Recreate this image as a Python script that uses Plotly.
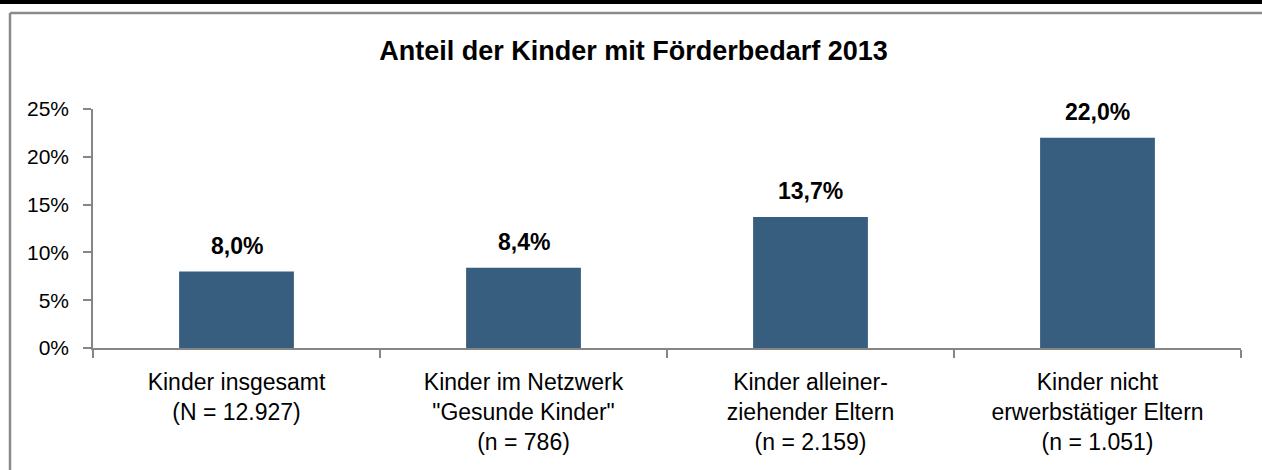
import plotly.graph_objects as go

categories = [
    "Kinder insgesamt<br>(N = 12.927)",
    "Kinder im Netzwerk<br>\"Gesunde Kinder\"<br>(n = 786)",
    "Kinder alleiner-<br>ziehender Eltern<br>(n = 2.159)",
    "Kinder nicht<br>erwerbstätiger Eltern<br>(n = 1.051)",
]
values = [8.0, 8.4, 13.7, 22.0]
y_ticks = [0, 5, 10, 15, 20, 25]
y_tick_labels = [f"{t}%" for t in y_ticks]
title_text = "Anteil der Kinder mit Förderbedarf 2013"

W, H = 1262, 470
ML, MR, MT, MB = 93, 21, 109, 122
FONT = "Liberation Sans, Arial, sans-serif"
BAR = "#375E7F"
AXIS = "#868686"

fig = go.Figure()
fig.add_trace(go.Bar(x=categories, y=values, marker=dict(color=BAR, line=dict(width=0)),
                     hoverinfo="skip"))

for c, v in zip(categories, values):
    fig.add_annotation(x=c, y=v, xref="x", yref="y", yanchor="bottom",
                       text=f"<b>{v:.1f}%</b>".replace(".", ","), showarrow=False,
                       yshift=11, font=dict(family=FONT, size=23, color="black"))

pw = W - ML - MR
ph = H - MT - MB
def px_x(p):
    return (p - ML) / pw
def px_y(p):
    return 1 - (p - MT) / ph

shapes = [
    dict(type="rect", xref="paper", yref="paper", x0=px_x(-5), x1=px_x(W + 5),
         y0=px_y(4), y1=px_y(-5), fillcolor="black", line=dict(width=0), layer="above"),
    dict(type="line", xref="paper", yref="paper", x0=px_x(10), x1=px_x(W + 5),
         y0=px_y(13), y1=px_y(13), line=dict(color="#8a8a8a", width=2.5)),
    dict(type="line", xref="paper", yref="paper", x0=px_x(10), x1=px_x(10),
         y0=px_y(13), y1=px_y(H + 5), line=dict(color="#8a8a8a", width=2.5)),
]

fig.update_layout(
    width=W, height=H,
    margin=dict(l=ML, r=MR, t=MT, b=MB, pad=0),
    paper_bgcolor="white", plot_bgcolor="white",
    showlegend=False, bargap=0.6,
    title=dict(text=f"<b>{title_text}</b>", x=0.502, xanchor="center",
               y=1 - 51 / H, yanchor="middle", yref="container",
               font=dict(family=FONT, size=27, color="black")),
    font=dict(family=FONT, color="black"),
    shapes=shapes,
    xaxis=dict(showline=True, linecolor=AXIS, linewidth=1.5, ticks="outside",
               tickson="boundaries", ticklen=8, tickcolor=AXIS, tickwidth=1.5,
               showgrid=False, tickfont=dict(family=FONT, size=23, color="black"),
               ticklabelstandoff=13, fixedrange=True),
    yaxis=dict(range=[0, 25], tickvals=y_ticks, ticktext=y_tick_labels,
               showline=True, linecolor=AXIS, linewidth=1.5, ticks="outside",
               ticklen=8, tickcolor=AXIS, tickwidth=1.5, showgrid=False,
               zeroline=False, tickfont=dict(family=FONT, size=21, color="black"),
               ticklabelstandoff=10, fixedrange=True),
)

fig.write_html("out.html", config={"displayModeBar": False},
               post_script="document.body.style.margin='0';document.body.style.overflow='hidden';")
